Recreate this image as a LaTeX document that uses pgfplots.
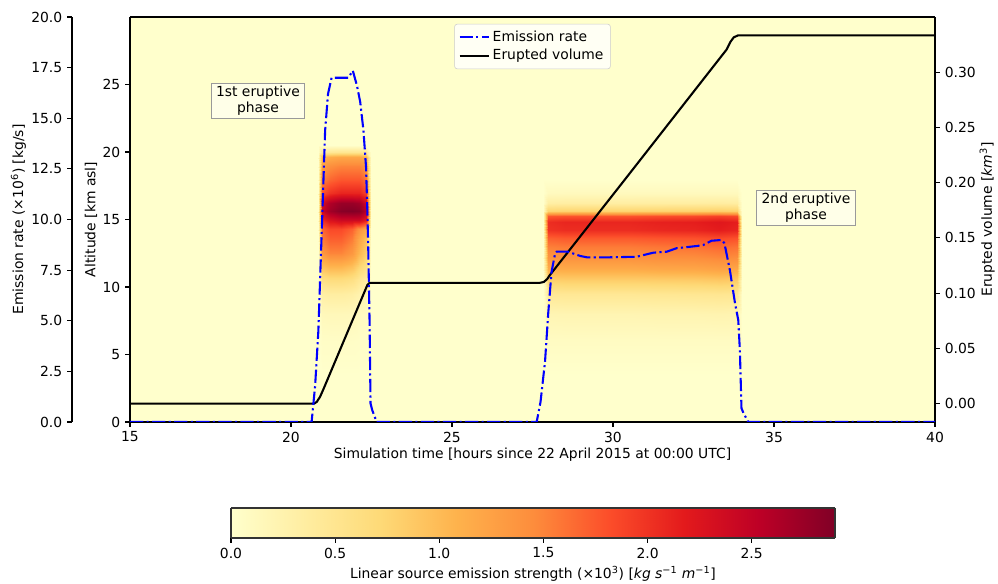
\documentclass[border=0pt]{standalone}
\usepackage{fontspec}
\setmainfont{DejaVu Sans}
\usepackage{pgfplots}
\pgfplotsset{compat=1.18}
\definecolor{bgyel}{HTML}{FFFFCC}
\definecolor{boxfill}{HTML}{FFFFE8}
\definecolor{boxedge}{HTML}{9A9A9A}
\definecolor{mplblue}{HTML}{0000FF}

\pgfplotsset{
  every axis/.append style={/pgf/number format/assume math mode=true},
  colormap={ylorrd}{rgb255=(255,255,204) rgb255=(255,237,160) rgb255=(254,217,118)
    rgb255=(254,178,76) rgb255=(253,141,60) rgb255=(252,78,42) rgb255=(227,26,28)
    rgb255=(189,0,38) rgb255=(128,0,38)},
  mplbase/.style={
    scale only axis,
    width=579.6pt, height=291.6pt,
    xmin=15, xmax=40,
    tick align=outside,
    major tick length=3.5pt,
    every tick/.style={black, line width=0.8pt},
    axis line style={line width=0.8pt},
    tick label style={font=\fontsize{10}{12}\selectfont},
    label style={font=\fontsize{10}{12}\selectfont},
  },
  dec1/.style={/pgf/number format/fixed, /pgf/number format/fixed zerofill,
    /pgf/number format/precision=1},
  dec2/.style={/pgf/number format/fixed, /pgf/number format/fixed zerofill,
    /pgf/number format/precision=2},
}

\begin{document}
\begin{tikzpicture}
\fill[bgyel] (0pt,0pt) rectangle (579.6pt,291.6pt);

% heat map of source strength, altitude axis, time axis
\begin{axis}[
  mplbase,
  view={0}{90},
  ymin=0, ymax=30,
  axis on top,
  tick pos=left,
  ztick=\empty,
  xtick={15,20,...,40},
  ytick={0,5,...,25},
  xlabel={Simulation time [hours since 22 April 2015 at 00:00 UTC]},
  ylabel={Altitude [km asl]},
  xlabel shift=-3pt, ylabel shift=-3pt,
  colormap name=ylorrd,
  point meta min=0, point meta max=2.9,
]
% 1st eruptive phase
\addplot3[surf, shader=interp, mesh/cols=8, point meta=z] coordinates {
(20.83,3.5,0) (20.97,3.5,0) (21.2,3.5,0) (21.55,3.5,0) (21.9,3.5,0) (22.12,3.5,0) (22.33,3.5,0) (22.48,3.5,0)
(20.83,6.0,0) (20.97,6.0,0.05) (21.2,6.0,0.05) (21.55,6.0,0.05) (21.9,6.0,0.05) (22.12,6.0,0.04) (22.33,6.0,0.03) (22.48,6.0,0)
(20.83,8.0,0) (20.97,8.0,0.14) (21.2,8.0,0.15) (21.55,8.0,0.15) (21.9,8.0,0.14) (22.12,8.0,0.10) (22.33,8.0,0.08) (22.48,8.0,0)
(20.83,9.5,0) (20.97,9.5,0.32) (21.2,9.5,0.35) (21.55,9.5,0.35) (21.9,9.5,0.32) (22.12,9.5,0.25) (22.33,9.5,0.19) (22.48,9.5,0)
(20.83,10.5,0) (20.97,10.5,0.59) (21.2,10.5,0.65) (21.55,10.5,0.65) (21.9,10.5,0.59) (22.12,10.5,0.46) (22.33,10.5,0.36) (22.48,10.5,0)
(20.83,11.5,0) (20.97,11.5,0.95) (21.2,11.5,1.05) (21.55,11.5,1.05) (21.9,11.5,0.95) (22.12,11.5,0.74) (22.33,11.5,0.58) (22.48,11.5,0)
(20.83,12.5,0) (20.97,12.5,1.35) (21.2,12.5,1.50) (21.55,12.5,1.50) (21.9,12.5,1.35) (22.12,12.5,1.05) (22.33,12.5,0.83) (22.48,12.5,0)
(20.83,13.5,0) (20.97,13.5,1.53) (21.2,13.5,1.70) (21.55,13.5,1.70) (21.9,13.5,1.53) (22.12,13.5,1.19) (22.33,13.5,0.94) (22.48,13.5,0)
(20.83,14.3,0) (20.97,14.3,1.67) (21.2,14.3,1.85) (21.55,14.3,1.85) (21.9,14.3,1.70) (22.12,14.3,1.40) (22.33,14.3,1.20) (22.48,14.3,0)
(20.83,15.0,0) (20.97,15.0,2.04) (21.2,15.0,2.28) (21.55,15.0,2.40) (21.9,15.0,2.40) (22.12,15.0,2.40) (22.33,15.0,2.16) (22.48,15.0,0)
(20.83,15.6,0) (20.97,15.6,2.42) (21.2,15.6,2.70) (21.55,15.6,2.85) (21.9,15.6,2.88) (22.12,15.6,2.85) (22.33,15.6,2.56) (22.48,15.6,0)
(20.83,16.2,0) (20.97,16.2,2.34) (21.2,16.2,2.61) (21.55,16.2,2.75) (21.9,16.2,2.75) (22.12,16.2,2.70) (22.33,16.2,2.40) (22.48,16.2,0)
(20.83,17.0,0) (20.97,17.0,1.79) (21.2,17.0,2.00) (21.55,17.0,2.10) (21.9,17.0,2.10) (22.12,17.0,2.10) (22.33,17.0,1.89) (22.48,17.0,0)
(20.83,18.0,0) (20.97,18.0,1.49) (21.2,18.0,1.66) (21.55,18.0,1.75) (21.9,18.0,1.75) (22.12,18.0,1.75) (22.33,18.0,1.58) (22.48,18.0,0)
(20.83,19.0,0) (20.97,19.0,1.28) (21.2,19.0,1.43) (21.55,19.0,1.50) (21.9,19.0,1.50) (22.12,19.0,1.50) (22.33,19.0,1.35) (22.48,19.0,0)
(20.83,19.6,0) (20.97,19.6,1.02) (21.2,19.6,1.14) (21.55,19.6,1.20) (21.9,19.6,1.20) (22.12,19.6,1.20) (22.33,19.6,1.08) (22.48,19.6,0)
(20.83,20.0,0) (20.97,20.0,0.40) (21.2,20.0,0.45) (21.55,20.0,0.48) (21.9,20.0,0.48) (22.12,20.0,0.48) (22.33,20.0,0.43) (22.48,20.0,0)
(20.83,20.5,0) (20.97,20.5,0) (21.2,20.5,0) (21.55,20.5,0) (21.9,20.5,0) (22.12,20.5,0) (22.33,20.5,0) (22.48,20.5,0)
};
% 2nd eruptive phase
\addplot3[surf, shader=interp, mesh/cols=10, point meta=z] coordinates {
(27.82,3.5,0) (27.98,3.5,0) (28.5,3.5,0) (29.5,3.5,0) (30.5,3.5,0) (31.5,3.5,0) (32.5,3.5,0) (33.3,3.5,0) (33.84,3.5,0) (34.0,3.5,0)
(27.82,6.0,0) (27.98,6.0,0.08) (28.5,6.0,0.08) (29.5,6.0,0.08) (30.5,6.0,0.08) (31.5,6.0,0.08) (32.5,6.0,0.08) (33.3,6.0,0.08) (33.84,6.0,0.08) (34.0,6.0,0)
(27.82,8.0,0) (27.98,8.0,0.20) (28.5,8.0,0.21) (29.5,8.0,0.21) (30.5,8.0,0.21) (31.5,8.0,0.22) (32.5,8.0,0.22) (33.3,8.0,0.23) (33.84,8.0,0.22) (34.0,8.0,0)
(27.82,9.5,0) (27.98,9.5,0.45) (28.5,9.5,0.46) (29.5,9.5,0.46) (30.5,9.5,0.46) (31.5,9.5,0.47) (32.5,9.5,0.48) (33.3,9.5,0.49) (33.84,9.5,0.48) (34.0,9.5,0)
(27.82,10.5,0) (27.98,10.5,0.81) (28.5,10.5,0.83) (29.5,10.5,0.83) (30.5,10.5,0.83) (31.5,10.5,0.84) (32.5,10.5,0.85) (33.3,10.5,0.88) (33.84,10.5,0.85) (34.0,10.5,0)
(27.82,11.3,0) (27.98,11.3,1.14) (28.5,11.3,1.16) (29.5,11.3,1.16) (30.5,11.3,1.16) (31.5,11.3,1.19) (32.5,11.3,1.20) (33.3,11.3,1.24) (33.84,11.3,1.20) (34.0,11.3,0)
(27.82,12.2,0) (27.98,12.2,1.38) (28.5,12.2,1.41) (29.5,12.2,1.41) (30.5,12.2,1.41) (31.5,12.2,1.44) (32.5,12.2,1.45) (33.3,12.2,1.49) (33.84,12.2,1.45) (34.0,12.2,0)
(27.82,13.0,0) (27.98,13.0,1.52) (28.5,13.0,1.55) (29.5,13.0,1.55) (30.5,13.0,1.55) (31.5,13.0,1.58) (32.5,13.0,1.60) (33.3,13.0,1.65) (33.84,13.0,1.60) (34.0,13.0,0)
(27.82,13.6,0) (27.98,13.6,1.71) (28.5,13.6,1.75) (29.5,13.6,1.75) (30.5,13.6,1.75) (31.5,13.6,1.78) (32.5,13.6,1.80) (33.3,13.6,1.85) (33.84,13.6,1.80) (34.0,13.6,0)
(27.82,14.2,0) (27.98,14.2,2.00) (28.5,14.2,2.04) (29.5,14.2,2.04) (30.5,14.2,2.04) (31.5,14.2,2.08) (32.5,14.2,2.10) (33.3,14.2,2.16) (33.84,14.2,2.10) (34.0,14.2,0)
(27.82,14.8,0) (27.98,14.8,2.04) (28.5,14.8,2.09) (29.5,14.8,2.09) (30.5,14.8,2.09) (31.5,14.8,2.13) (32.5,14.8,2.15) (33.3,14.8,2.21) (33.84,14.8,2.15) (34.0,14.8,0)
(27.82,15.25,0) (27.98,15.25,1.76) (28.5,15.25,1.79) (29.5,15.25,1.79) (30.5,15.25,1.79) (31.5,15.25,1.83) (32.5,15.25,1.85) (33.3,15.25,1.90) (33.84,15.25,1.85) (34.0,15.25,0)
(27.82,15.6,0) (27.98,15.6,0.76) (28.5,15.6,0.78) (29.5,15.6,0.78) (30.5,15.6,0.78) (31.5,15.6,0.79) (32.5,15.6,0.80) (33.3,15.6,0.82) (33.84,15.6,0.80) (34.0,15.6,0)
(27.82,16.2,0) (27.98,16.2,0.33) (28.5,16.2,0.34) (29.5,16.2,0.34) (30.5,16.2,0.34) (31.5,16.2,0.35) (32.5,16.2,0.35) (33.3,16.2,0.36) (33.84,16.2,0.35) (34.0,16.2,0)
(27.82,17.0,0) (27.98,17.0,0.11) (28.5,17.0,0.12) (29.5,17.0,0.12) (30.5,17.0,0.12) (31.5,17.0,0.12) (32.5,17.0,0.12) (33.3,17.0,0.12) (33.84,17.0,0.12) (34.0,17.0,0)
(27.82,18.0,0) (27.98,18.0,0) (28.5,18.0,0) (29.5,18.0,0) (30.5,18.0,0) (31.5,18.0,0) (32.5,18.0,0) (33.3,18.0,0) (33.84,18.0,0) (34.0,18.0,0)
};
\end{axis}

% erupted volume, right axis
\begin{axis}[
  mplbase,
  ymin=-0.0167, ymax=0.3499,
  axis x line=none, axis y line*=right,
  ytick={0,0.05,0.1,0.15,0.2,0.25,0.3},
  yticklabel style={dec2},
  scaled y ticks=false,
  ylabel={Erupted volume [\textit{km}\textsuperscript{3}]},
  ylabel shift=-4pt,
]
\addplot[black, line width=1.5pt] coordinates {
(15,0) (20.72,0) (20.8,0.0015) (20.9,0.006) (21.0,0.0125)
(22.37,0.1072) (22.42,0.1088) (22.47,0.1093) (27.73,0.1093) (27.85,0.1100)
(27.95,0.1125) (28.04,0.1163) (30.37,0.2028) (33.53,0.3205) (33.65,0.3275)
(33.75,0.3315) (33.88,0.3332) (40,0.3332)
};
\end{axis}

% emission rate line, legend and phase notes
\begin{axis}[
  mplbase,
  ymin=0, ymax=20,
  hide axis,
  legend style={at={(0.5,0.983)}, anchor=north, draw=black!20, rounded corners=2pt,
    fill=white, fill opacity=0.8, text opacity=1, font=\fontsize{10}{12}\selectfont,
    inner xsep=3pt, inner ysep=3pt, row sep=0pt},
  legend cell align=left,
  legend image code/.code={\draw[#1] (0pt,0pt) -- (21pt,0pt);},
]
\addplot[mplblue, line width=1.5pt, dash pattern=on 9.6pt off 2.4pt on 1.5pt off 2.4pt] coordinates {
(15,0) (20.64,0) (20.75,1.8) (20.85,4.5) (20.92,7.8) (20.98,10.6) (21.06,14.4)
(21.15,16.2) (21.26,17.0) (21.78,17.0) (21.92,17.35) (22.05,16.6) (22.15,15.8)
(22.25,14.4) (22.33,12.6) (22.37,10.5) (22.40,8.5) (22.44,5.0) (22.47,0.92)
(22.52,0.6) (22.66,0) (27.63,0) (27.75,1.0) (27.89,3.0) (27.99,5.4) (28.09,7.4)
(28.2,8.3) (28.25,8.41) (28.6,8.41) (28.98,8.2) (29.2,8.13) (29.8,8.13) (30.73,8.16)
(31.25,8.36) (31.67,8.41) (31.97,8.58) (32.6,8.69) (32.8,8.74) (33.06,8.95)
(33.37,8.99) (33.46,8.83) (33.63,7.5) (33.79,5.86) (33.89,5.04) (33.94,3.56)
(33.99,0.68) (34.05,0.45) (34.2,0) (40,0)
};
\addlegendentry{Emission rate}
\addlegendimage{black, line width=1.5pt}
\addlegendentry{Erupted volume}
\node[draw=boxedge, fill=boxfill, line width=0.8pt, align=center, inner xsep=3.5pt,
  inner ysep=2pt, font=\fontsize{10}{11.5}\selectfont] at (rel axis cs:0.159,0.7926)
  {1st eruptive\\phase};
\node[draw=boxedge, fill=boxfill, line width=0.8pt, align=center, inner xsep=3.5pt,
  inner ysep=2pt, font=\fontsize{10}{11.5}\selectfont] at (rel axis cs:0.8398,0.5284)
  {2nd eruptive\\phase};
\end{axis}

% outer emission rate spine
\begin{axis}[
  mplbase,
  width=1pt,
  at={(-41.76pt,0pt)}, anchor=south west,
  xmin=0, xmax=1,
  ymin=0, ymax=20,
  axis x line=none, axis y line*=left,
  ytick={0,2.5,...,20},
  yticklabel style={dec1},
  ylabel={Emission rate (×10\textsuperscript{6}) [kg/s]},
  ylabel shift=-3pt,
]
\end{axis}

% colour bar
\begin{axis}[
  scale only axis,
  width=434.88pt, height=21.6pt,
  at={(72.72pt,-83.52pt)}, anchor=south west,
  view={0}{90},
  xmin=0, xmax=2.9, ymin=0, ymax=1,
  colormap name=ylorrd,
  point meta min=0, point meta max=2.9,
  axis on top,
  xtick={0,0.5,1,1.5,2,2.5}, ytick=\empty, ztick=\empty,
  xtick pos=left,
  tick align=outside, major tick length=3.5pt,
  every tick/.style={black, line width=0.8pt},
  axis line style={black!80, line width=0.8pt},
  xticklabel style={dec1, font=\fontsize{10}{12}\selectfont},
  xlabel={Linear source emission strength (×10\textsuperscript{3}) [\textit{kg s}\textsuperscript{−1} \textit{m}\textsuperscript{−1}]},
  xlabel style={font=\fontsize{10}{12}\selectfont},
  xlabel shift=-1pt,
]
\addplot3[surf, shader=interp, mesh/cols=9, point meta=x] coordinates {
(0,0,0) (0.3625,0,0) (0.725,0,0) (1.0875,0,0) (1.45,0,0) (1.8125,0,0) (2.175,0,0) (2.5375,0,0) (2.9,0,0)
(0,1,0) (0.3625,1,0) (0.725,1,0) (1.0875,1,0) (1.45,1,0) (1.8125,1,0) (2.175,1,0) (2.5375,1,0) (2.9,1,0)
};
\end{axis}

\pgfresetboundingbox
\useasboundingbox (-93.6pt,-116.64pt) rectangle (624.96pt,303.84pt);
\end{tikzpicture}
\end{document}
